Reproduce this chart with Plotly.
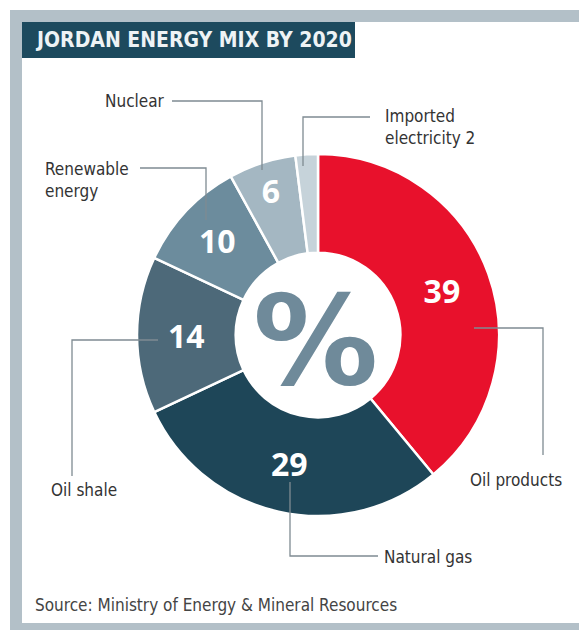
import plotly.graph_objects as go

W, H = 579, 630

# ---- data ----
categories = ["Oil products", "Natural gas", "Oil shale", "Renewable energy", "Nuclear", "Imported electricity"]
values = [39, 29, 14, 10, 6, 2]
colors = ["#e8112c", "#1e4658", "#4d6979", "#6c8c9d", "#a4b7c2", "#c6d3da"]
label_texts = ["Oil products", "Natural gas", "Oil shale", "Renewable<br>energy", "Nuclear", "Imported<br>electricity 2"]
title_text = "JORDAN ENERGY MIX BY 2020"
source_text = "Source: Ministry of Energy & Mineral Resources"


def px(x):
    return x / W


def py(y):
    return 1 - y / H


cx, cy, R = 318, 335, 181
inside_text = ["%{value}" if v > 2 else "" for v in values]

fig = go.Figure()
fig.add_trace(go.Pie(
    labels=categories,
    values=values,
    sort=False,
    direction="clockwise",
    rotation=0,
    hole=0.455,
    marker=dict(colors=colors, line=dict(color="white", width=2.5)),
    texttemplate=inside_text,
    textposition="inside",
    insidetextorientation="horizontal",
    insidetextfont=dict(family="Open Sans", size=32, color="white", weight=700),
    hoverinfo="label+value",
    showlegend=False,
    domain=dict(x=[px(cx - R), px(cx + R)], y=[py(cy + R), py(cy - R)]),
))

shapes = []
# frame
grey = "#b3c0c8"
shapes.append(dict(type="rect", xref="paper", yref="paper", x0=px(10), x1=px(579), y0=py(22), y1=py(10),
                   fillcolor=grey, line=dict(width=0), layer="below"))
shapes.append(dict(type="rect", xref="paper", yref="paper", x0=px(10), x1=px(22), y0=py(630), y1=py(10),
                   fillcolor=grey, line=dict(width=0), layer="below"))
shapes.append(dict(type="rect", xref="paper", yref="paper", x0=px(10), x1=px(579), y0=py(630), y1=py(623),
                   fillcolor=grey, line=dict(width=0), layer="below"))
# title box
shapes.append(dict(type="rect", xref="paper", yref="paper", x0=px(22), x1=px(355), y0=py(58), y1=py(22),
                   fillcolor="#1d4a5e", line=dict(width=0), layer="below"))

# leader lines (polylines in pixel space)
leader_paths = [
    [(474, 328), (543, 328), (543, 455)],          # Oil products
    [(290, 482), (290, 556), (378, 556)],          # Natural gas
    [(158, 340), (72, 340), (72, 476)],            # Oil shale
    [(140, 168), (206, 168), (206, 220)],          # Renewable
    [(172, 101), (262, 101), (262, 170)],          # Nuclear
    [(303, 166), (303, 117), (370, 117)],          # Imported
]
for pts in leader_paths:
    d = "M " + " L ".join(f"{px(x)},{py(y)}" for x, y in pts)
    shapes.append(dict(type="path", xref="paper", yref="paper", path=d,
                       line=dict(color="#7f8b92", width=1.3)))

lab_font = dict(family="DejaVu Sans Condensed, Arial", size=17, color="#333333")
label_pos = [
    (516, 480, "center"),
    (428, 557, "center"),
    (84, 490, "center"),
    (43, 180, "left"),
    (135, 101, "center"),
    (383, 127, "left"),
]
annotations = []
for txt, (x, y, al) in zip(label_texts, label_pos):
    annotations.append(dict(x=px(x), y=py(y), xref="paper", yref="paper", text=txt, showarrow=False,
                            xanchor=al, yanchor="middle", align="left", font=lab_font))

annotations.append(dict(x=px(33), y=py(40), xref="paper", yref="paper", text=title_text, showarrow=False,
                        xanchor="left", yanchor="middle",
                        font=dict(family="DejaVu Sans Condensed", size=21, color="#eef3f5", weight=700)))
annotations.append(dict(x=px(33), y=py(605), xref="paper", yref="paper", text=source_text, showarrow=False,
                        xanchor="left", yanchor="middle",
                        font=dict(family="DejaVu Sans Condensed, Arial", size=17, color="#444444")))
annotations.append(dict(x=px(315), y=py(340), xref="paper", yref="paper", text="%", showarrow=False,
                        xanchor="center", yanchor="middle",
                        font=dict(family="DejaVu Sans", size=125, color="#6f8a9a", weight=700)))

fig.update_layout(
    width=W, height=H,
    margin=dict(l=0, r=0, t=0, b=0),
    paper_bgcolor="white",
    plot_bgcolor="white",
    shapes=shapes,
    annotations=annotations,
)

fig.write_html("out.html", config={"displayModeBar": False},
               post_script="document.body.style.margin='0';")
